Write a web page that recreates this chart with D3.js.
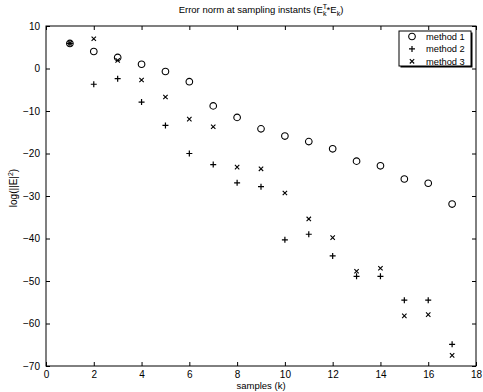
<!DOCTYPE html>
<html>
<head>
<meta charset="utf-8">
<script src="https://cdn.jsdelivr.net/npm/d3@7"></script>
<style>
  body { margin: 0; background: #fff; }
  text { font-family: "Liberation Sans", Arial, sans-serif; fill: #000; }
</style>
</head>
<body>
<div id="chart"></div>
<script>
// samples k and the three error curves
const samples = [1, 2, 3, 4, 5, 6, 7, 8, 9, 10, 11, 12, 13, 14, 15, 16, 17];
const method1 = [5.9, 4.0, 2.6, 1.0, -0.7, -3.1, -8.8, -11.5, -14.2, -15.9, -17.2, -18.9, -21.8, -22.9, -26.0, -27.0, -31.9];
const method2 = [5.9, -3.7, -2.4, -7.9, -13.4, -20.0, -22.6, -26.9, -27.8, -40.3, -39.0, -44.1, -48.9, -48.9, -54.5, -54.5, -64.9];
const method3 = [5.9, 7.0, 1.9, -2.7, -6.7, -11.9, -13.7, -23.2, -23.6, -29.3, -35.4, -39.8, -47.7, -47.0, -58.2, -57.9, -67.5];
const seriesNames = ["method 1", "method 2", "method 3"];
const xTicks = [0, 2, 4, 6, 8, 10, 12, 14, 16, 18];
const yTicks = [10, 0, -10, -20, -30, -40, -50, -60, -70];

const width = 483, height = 392;
const margin = { top: 26, right: 7, bottom: 26, left: 46 };

const svg = d3.select("#chart").append("svg")
  .attr("width", width).attr("height", height);

const x = d3.scaleLinear().domain([0, 18]).range([margin.left, width - margin.right]);
const y = d3.scaleLinear().domain([-70, 10]).range([height - margin.bottom, margin.top]);

const tickLen = 4;
const fmt = d => d < 0 ? "\u2212" + Math.abs(d) : String(d);

// axes with inward ticks on all four sides (box style)
svg.append("g").attr("transform", "translate(0," + y(-70) + ")")
  .call(d3.axisBottom(x).tickValues(xTicks).tickSizeInner(-tickLen).tickSizeOuter(0).tickPadding(5).tickFormat(fmt));
svg.append("g").attr("transform", "translate(0," + y(10) + ")")
  .call(d3.axisTop(x).tickValues(xTicks).tickSizeInner(-tickLen).tickSizeOuter(0).tickFormat(""));
svg.append("g").attr("transform", "translate(" + x(0) + ",0)")
  .call(d3.axisLeft(y).tickValues(yTicks).tickSizeInner(-tickLen).tickSizeOuter(0).tickPadding(6).tickFormat(fmt));
svg.append("g").attr("transform", "translate(" + x(18) + ",0)")
  .call(d3.axisRight(y).tickValues(yTicks).tickSizeInner(-tickLen).tickSizeOuter(0).tickFormat(""));

svg.selectAll(".domain").remove();
svg.selectAll(".tick line").attr("stroke", "#000");
svg.selectAll(".tick text").attr("font-size", 10).attr("font-family", "Liberation Sans, Arial, sans-serif");

svg.append("rect")
  .attr("x", x(0)).attr("y", y(10))
  .attr("width", x(18) - x(0)).attr("height", y(-70) - y(10))
  .attr("fill", "none").attr("stroke", "#000").attr("stroke-width", 1);

// marker shapes
const circle = (g) => g.append("circle").attr("r", 3.3).attr("fill", "none").attr("stroke", "#000").attr("stroke-width", 1.1);
const plus = (g) => g.append("path").attr("d", "M-3,0H3M0,-3V3").attr("stroke", "#000").attr("stroke-width", 1.2);
const cross = (g) => g.append("path").attr("d", "M-2.2,-2.2L2.2,2.2M-2.2,2.2L2.2,-2.2").attr("stroke", "#000").attr("stroke-width", 1.1);
const markers = [circle, plus, cross];

[method1, method2, method3].forEach((vals, i) => {
  svg.append("g").selectAll("g")
    .data(samples.map((k, j) => [k, vals[j]]))
    .join("g")
    .attr("transform", d => "translate(" + x(d[0]) + "," + y(d[1]) + ")")
    .each(function () { markers[i](d3.select(this)); });
});

// legend
const lg = svg.append("g").attr("transform", "translate(399,31)");
lg.append("rect").attr("x", 1.5).attr("y", 1.5).attr("width", 72).attr("height", 35).attr("fill", "#000");
lg.append("rect").attr("width", 72).attr("height", 35).attr("fill", "#fff").attr("stroke", "#000");
seriesNames.forEach((name, i) => {
  const row = lg.append("g").attr("transform", "translate(13," + (5.5 + i * 12.4) + ")");
  markers[i](row);
  row.append("text").attr("x", 14).attr("dy", "0.35em").attr("font-size", 9.3).text(name);
});

// title and labels
const title = svg.append("text")
  .attr("x", (x(0) + x(18)) / 2).attr("y", 13)
  .attr("text-anchor", "middle").attr("font-size", 9.5);
title.append("tspan").text("Error norm at sampling instants (E");
title.append("tspan").attr("dy", -4).attr("font-size", 7).text("T");
title.append("tspan").attr("dx", -4).attr("dy", 7).attr("font-size", 7).text("k");
title.append("tspan").attr("dy", -3).text("*E");
title.append("tspan").attr("dy", 3).attr("font-size", 7).text("k");
title.append("tspan").attr("dy", -3).text(")");

svg.append("text")
  .attr("x", (x(0) + x(18)) / 2).attr("y", 389)
  .attr("text-anchor", "middle").attr("font-size", 9.5).text("samples (k)");

const yl = svg.append("text")
  .attr("transform", "translate(17," + ((y(10) + y(-70)) / 2 - 8) + ") rotate(-90)")
  .attr("text-anchor", "middle").attr("font-size", 10);
yl.append("tspan").text("log(||E|");
yl.append("tspan").attr("dy", -4).attr("font-size", 7).text("2");
yl.append("tspan").attr("dy", 4).text(")");
</script>
</body>
</html>
